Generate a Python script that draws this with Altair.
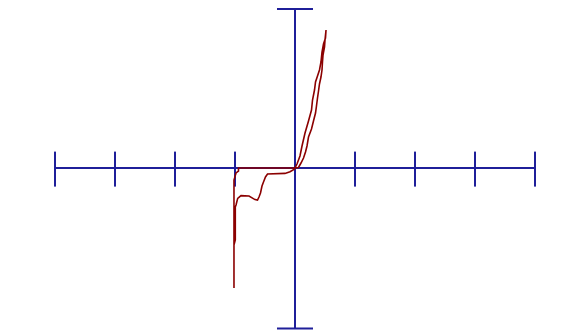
import altair as alt
import pandas as pd

# Hysteresis curve (x: one unit per tick, y: axis spans about +/-8)
curve_x = [0.0, 0.058, 0.1, 0.142, 0.175, 0.2, 0.225, 0.275, 0.308, 0.342, 0.358, 0.375,
           0.392, 0.408, 0.433, 0.45, 0.458, 0.467, 0.492, 0.5, 0.517,
           0.508, 0.475, 0.45, 0.433, 0.408, 0.375, 0.342, 0.325, 0.292, 0.275, 0.225,
           0.167, 0.117, 0.083, 0.033, 0.0,
           -0.942, -0.942, -0.983, -1.017, -1.017, -1.017, -0.995, -0.995, -0.983,
           -0.955, -0.9, -0.767, -0.667, -0.625, -0.6, -0.575, -0.55, -0.525, -0.492,
           -0.458, -0.167, -0.083, -0.017, 0.0]
curve_y = [0.0, 0.025, 0.25, 0.5, 0.8, 1.1, 1.55, 1.95, 2.35, 2.75, 3.1, 3.5,
           3.85, 4.2, 4.55, 4.9, 5.3, 5.65, 6.05, 6.4, 6.9,
           6.5, 6.2, 5.8, 5.3, 4.9, 4.6, 4.3, 3.9, 3.4, 2.9, 2.35,
           1.75, 1.1, 0.6, 0.2, 0.0,
           0.0, -0.15, -0.25, -0.6, -6.0, -3.85, -3.6, -1.95, -1.85,
           -1.52, -1.38, -1.4, -1.58, -1.6, -1.45, -1.25, -0.9, -0.7, -0.45,
           -0.3, -0.27, -0.19, -0.07, 0.0]

tick_positions = [-4, -3, -2, -1, 1, 2, 3, 4]
x_extent = [-4, 4]
y_extent = [-8.03, 7.95]

AXIS = "#1f1f99"
CURVE = "#8b0000"

xs = alt.Scale(domain=[-4.7833, 4.6833], nice=False, zero=False)
ys = alt.Scale(domain=[-8.1, 8.0], nice=False, zero=False)

curve_df = pd.DataFrame({"x": curve_x, "y": curve_y, "i": range(len(curve_x))})

segs = []
# horizontal axis
segs.append(dict(x=x_extent[0], x2=x_extent[1], y=0, y2=0))
# vertical axis
segs.append(dict(x=0, x2=0, y=y_extent[0], y2=y_extent[1]))
# end caps of vertical axis
segs.append(dict(x=-0.3, x2=0.3, y=y_extent[1], y2=y_extent[1]))
segs.append(dict(x=-0.3, x2=0.3, y=y_extent[0], y2=y_extent[0]))
# ticks on horizontal axis
for t in tick_positions:
    segs.append(dict(x=t, x2=t, y=-0.93, y2=0.82))
seg_df = pd.DataFrame(segs)

axes = alt.Chart(seg_df).mark_rule(color=AXIS, strokeWidth=2).encode(
    x=alt.X("x:Q", scale=xs, axis=None),
    x2="x2:Q",
    y=alt.Y("y:Q", scale=ys, axis=None),
    y2="y2:Q",
)

line = alt.Chart(curve_df).mark_line(color=CURVE, strokeWidth=1.6).encode(
    x=alt.X("x:Q", scale=xs, axis=None),
    y=alt.Y("y:Q", scale=ys, axis=None),
    order="i:Q",
)

chart = alt.layer(axes, line).properties(
    width=568, height=322, padding=0,
    autosize=alt.AutoSizeParams(type="none"),
    background="white",
).configure_view(stroke=None)

chart.save("out.html", embed_options={"renderer": "svg", "actions": False})
